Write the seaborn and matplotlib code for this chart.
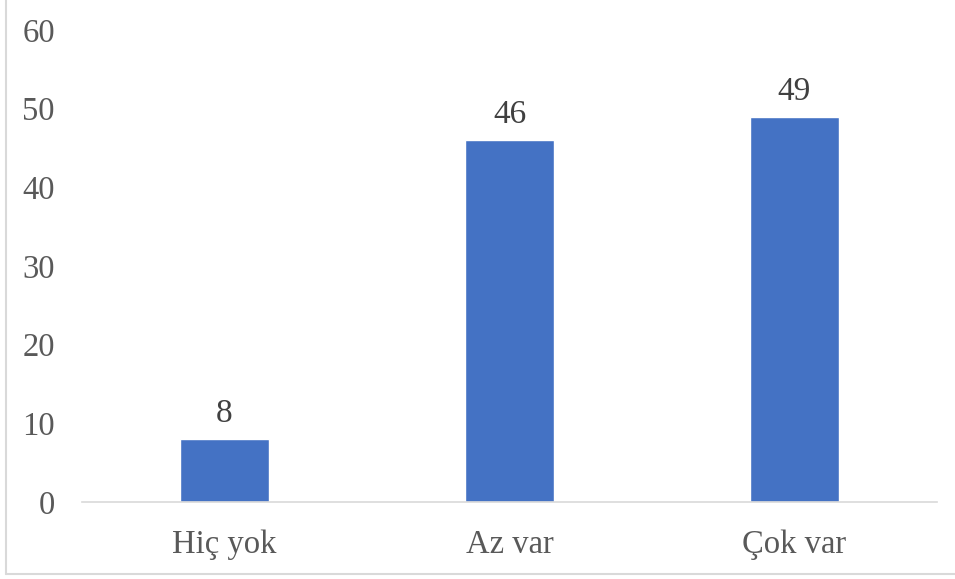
import matplotlib
matplotlib.use("Agg")
import matplotlib.pyplot as plt
from matplotlib.lines import Line2D
import seaborn as sns
import pandas as pd

categories = ["Hiç yok", "Az var", "Çok var"]
values = [8, 46, 49]
y_ticks = [0, 10, 20, 30, 40, 50, 60]

sns.set_theme(style="white")
plt.rcParams["font.family"] = ["Liberation Serif", "DejaVu Serif"]

W, H = 955, 579
fig = plt.figure(figsize=(W / 100, H / 100), dpi=100)
ax = fig.add_axes([82 / W, 77 / H, 855 / W, 472 / H])

df = pd.DataFrame({"category": categories, "value": values})
sns.barplot(data=df, x="category", y="value", color="#4472C4", width=0.31,
            saturation=1, ax=ax)

ax.set_ylim(0, 60)
ax.set_xlim(-0.5, 2.5)
ax.set_yticks(y_ticks)
ax.set_yticklabels([str(t) for t in y_ticks])
ax.set_xlabel("")
ax.set_ylabel("")
ax.tick_params(axis="both", length=0, labelsize=23.5, colors="#595959")
ax.tick_params(axis="y", pad=19.5)
ax.tick_params(axis="x", pad=20)

for side in ["top", "left", "right"]:
    ax.spines[side].set_visible(False)
ax.spines["bottom"].set_color("#D9D9D9")
ax.spines["bottom"].set_linewidth(1.2)

ax.bar_label(ax.containers[0], labels=[str(v) for v in values],
             padding=7, fontsize=24, color="#404040")

# chart frame
fig.add_artist(Line2D([5.5 / W, 5.5 / W], [5 / H, 1], transform=fig.transFigure,
                      color="#D9D9D9", linewidth=1.5))
fig.add_artist(Line2D([5.5 / W, 1], [5 / H, 5 / H], transform=fig.transFigure,
                      color="#D9D9D9", linewidth=1.5))

fig.savefig("out.png", dpi=100)
